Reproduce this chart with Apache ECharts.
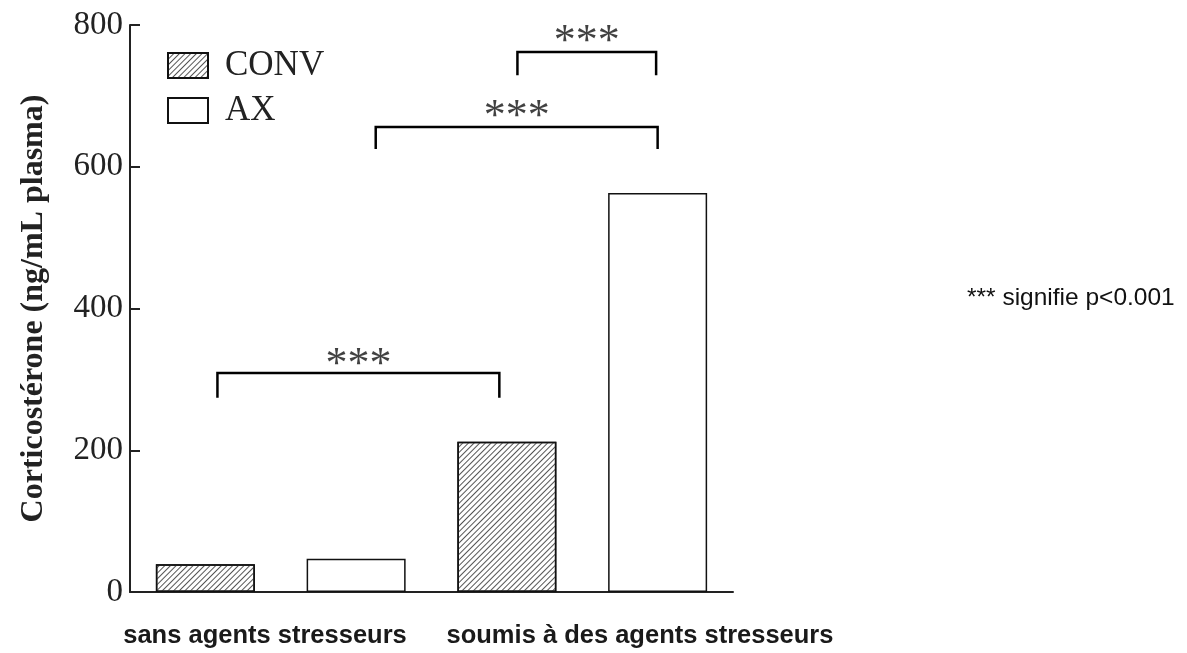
<!DOCTYPE html>
<html>
<head>
<meta charset="utf-8">
<script src="https://cdn.jsdelivr.net/npm/echarts@6/dist/echarts.min.js"></script>
<style>
  html, body { margin: 0; padding: 0; background: #fff; }
  #chart { width: 1187px; height: 653px; }
</style>
</head>
<body>
<div id="chart"></div>
<script>
// bars: one slot per group/strain
var categories = ['CONV sans', 'AX sans', 'CONV soumis', 'AX soumis'];
var convValues = [39, null, 212, null];
var axValues = [null, 47, null, 563];
var groupLabels = ['sans agents stresseurs', 'soumis à des agents stresseurs'];
var yTicks = [0, 200, 400, 600, 800];

// significance brackets, x in category units (0..4), y in ng/mL
var bracketX1 = [0.58, 1.63, 2.57];
var bracketX2 = [2.45, 3.50, 3.49];
var bracketTop = [309, 656, 762];
var bracketLeg = [274, 625, 729];
var starY = [334, 684, 790];
var starText = '***';

var serif = '"Liberation Serif", "Times New Roman", serif';
var sans = '"Liberation Sans", Arial, sans-serif';

var chart = echarts.init(document.getElementById('chart'));

var bracketSeries = bracketX1.map(function (x1, i) {
    var x2 = bracketX2[i];
    return {
        type: 'line',
        xAxisIndex: 1,
        data: [[x1, bracketLeg[i]], [x1, bracketTop[i]], [x2, bracketTop[i]], [x2, bracketLeg[i]]],
        symbol: 'none',
        silent: true,
        lineStyle: { color: '#000', width: 2.5, join: 'miter' },
        z: 5
    };
});

var starSeries = {
    type: 'scatter',
    xAxisIndex: 1,
    symbolSize: 1,
    itemStyle: { color: 'rgba(0,0,0,0)' },
    data: bracketX1.map(function (x1, i) {
        return [(x1 + bracketX2[i]) / 2, starY[i]];
    }),
    label: {
        show: true,
        position: 'inside',
        offset: [0, 10],
        formatter: starText,
        fontFamily: serif,
        fontSize: 44,
        color: '#111'
    },
    silent: true
};

var option = {
    animation: false,
    grid: { left: 130, right: 454, top: 25, bottom: 61 },
    legend: {
        data: ['CONV', 'AX'],
        orient: 'vertical',
        left: 162,
        top: 43,
        icon: 'rect',
        itemWidth: 40,
        itemHeight: 25,
        itemGap: 10,
        selectedMode: false,
        textStyle: {
            fontFamily: serif,
            fontSize: 35,
            color: '#222',
            lineHeight: 32,
            padding: [0, 0, 0, 12]
        }
    },
    xAxis: [{
        type: 'category',
        data: categories,
        axisLine: { lineStyle: { color: '#222', width: 2 } },
        axisTick: { show: false },
        axisLabel: { show: false }
    }, {
        type: 'value',
        min: 0,
        max: 4,
        show: false
    }],
    yAxis: {
        type: 'value',
        min: yTicks[0],
        max: yTicks[yTicks.length - 1],
        interval: 200,
        name: 'Corticostérone (ng/mL plasma)',
        nameLocation: 'middle',
        nameGap: 80,
        nameTextStyle: {
            fontFamily: serif,
            fontSize: 32,
            fontWeight: 'bold',
            color: '#222'
        },
        axisLine: { show: true, lineStyle: { color: '#222', width: 2 } },
        axisTick: { show: true, inside: true, length: 10, lineStyle: { color: '#222', width: 2 } },
        splitLine: { show: false },
        axisLabel: {
            fontFamily: serif,
            fontSize: 33,
            color: '#222',
            margin: 7
        }
    },
    series: [{
        name: 'CONV',
        type: 'bar',
        data: convValues,
        barWidth: 99,
        barGap: '-100%',
        itemStyle: {
            color: '#fff',
            borderColor: '#111',
            borderWidth: 1.5,
            decal: {
                symbol: 'rect',
                symbolSize: 1,
                color: '#555',
                dashArrayX: [1, 0],
                dashArrayY: [1, 2.8],
                rotation: -Math.PI / 4
            }
        }
    }, {
        name: 'AX',
        type: 'bar',
        data: axValues,
        barWidth: 99,
        barGap: '-100%',
        itemStyle: {
            color: '#fff',
            borderColor: '#111',
            borderWidth: 1.5
        }
    }].concat(bracketSeries, [starSeries]),
    graphic: [{
        type: 'text',
        x: 265,
        y: 636,
        style: { text: groupLabels[0], font: 'bold 25.5px ' + sans, fill: '#1a1a1a', align: 'center', verticalAlign: 'middle' }
    }, {
        type: 'text',
        x: 640,
        y: 636,
        style: { text: groupLabels[1], font: 'bold 25.5px ' + sans, fill: '#1a1a1a', align: 'center', verticalAlign: 'middle' }
    }, {
        type: 'text',
        left: 967,
        top: 286,
        style: { text: '*** signifie p<0.001', font: '24.5px ' + sans, fill: '#111' }
    }]
};

chart.setOption(option);
</script>
</body>
</html>
